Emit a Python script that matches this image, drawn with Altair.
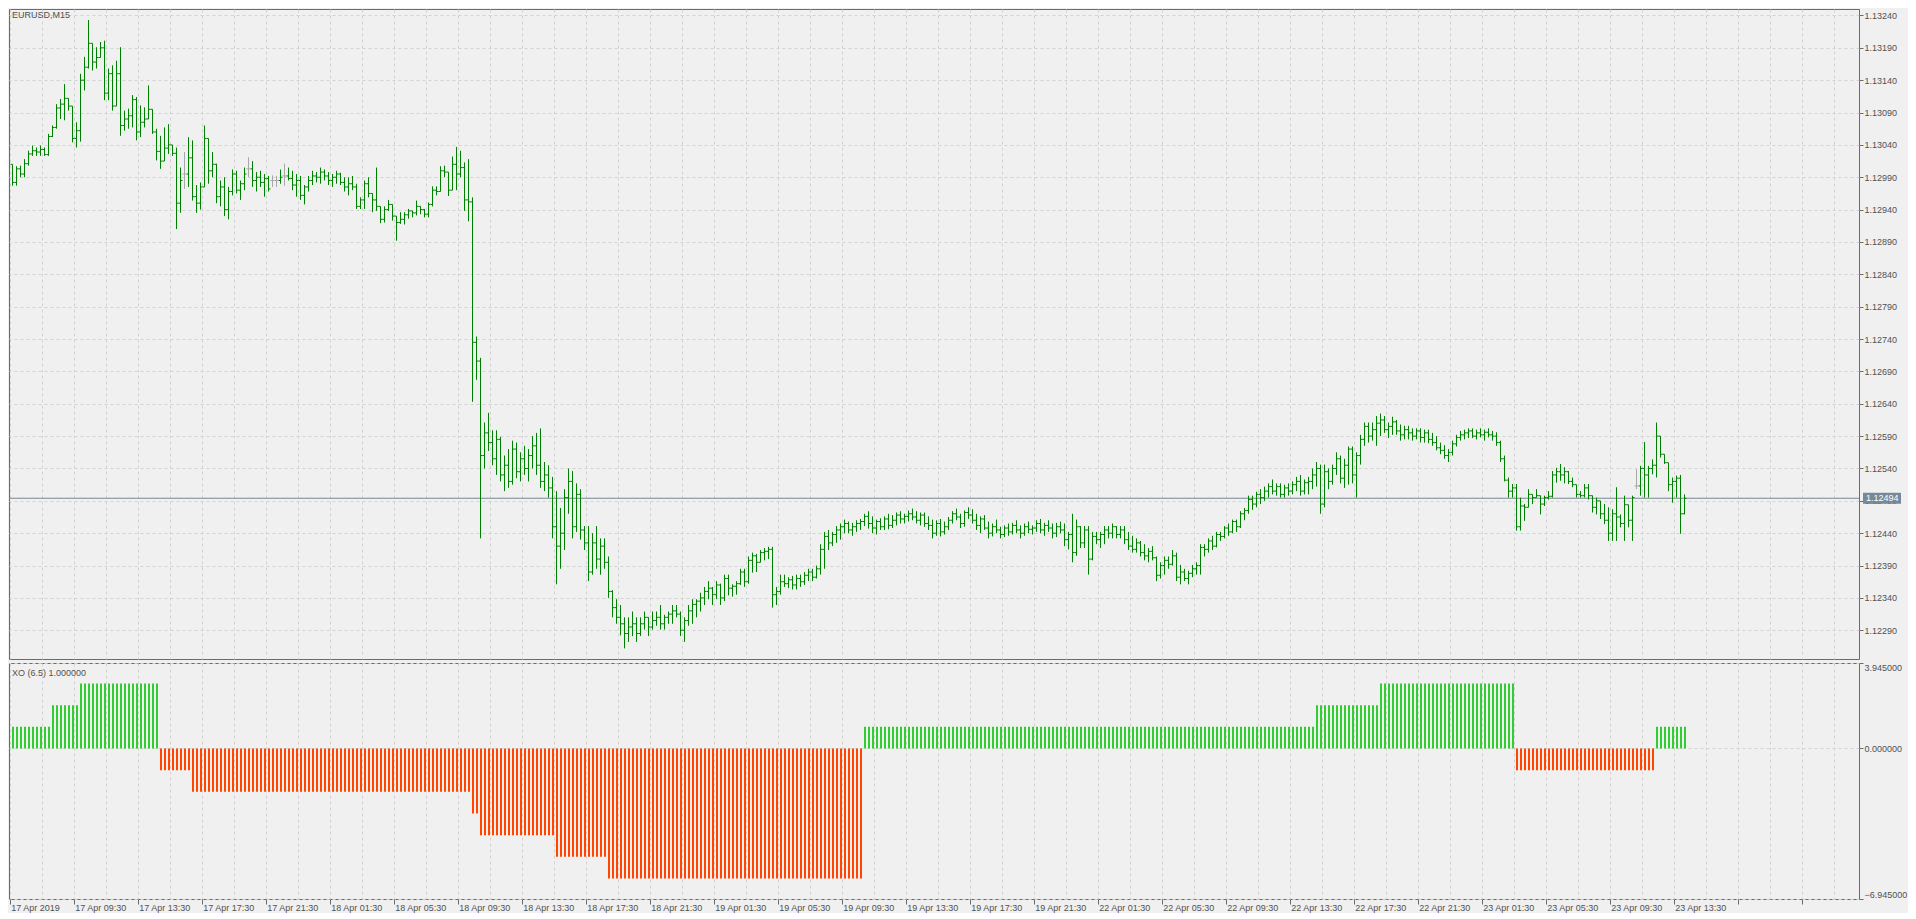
import json
import altair as alt
import pandas as pd

# ---------------- data ----------------
symbol_title = "EURUSD,M15"
indicator_title = "XO (6.5) 1.000000"

time_labels = ["17 Apr 2019", "17 Apr 09:30", "17 Apr 13:30", "17 Apr 17:30", "17 Apr 21:30",
               "18 Apr 01:30", "18 Apr 05:30", "18 Apr 09:30", "18 Apr 13:30", "18 Apr 17:30",
               "18 Apr 21:30", "19 Apr 01:30", "19 Apr 05:30", "19 Apr 09:30", "19 Apr 13:30",
               "19 Apr 17:30", "19 Apr 21:30", "22 Apr 01:30", "22 Apr 05:30", "22 Apr 09:30",
               "22 Apr 13:30", "22 Apr 17:30", "22 Apr 21:30", "23 Apr 01:30", "23 Apr 05:30",
               "23 Apr 09:30", "23 Apr 13:30"]

price_ticks = [1.12290, 1.12340, 1.12390, 1.12440, 1.12490, 1.12540, 1.12590, 1.12640, 1.12690, 1.12740,
               1.12790, 1.12840, 1.12890, 1.12940, 1.12990, 1.13040, 1.13090, 1.13140, 1.13190, 1.13240]
xo_ticks = [3.945, 0.0, -6.945]

# prices in points above 1.12000 (e.g. 1010 -> 1.13010)
opens = [
    1010, 982, 1003, 995, 1011, 1026, 1031, 1029, 1033, 1025,
    1053, 1067, 1097, 1103, 1112, 1100, 1050, 1062, 1140, 1160,
    1197, 1168, 1175, 1190, 1120, 1150, 1100, 1150, 1070, 1080,
    1085, 1110, 1060, 1075, 1080, 1095, 1060, 1030, 1015, 1035,
    1040, 1027, 950, 995, 995, 1020, 960, 950, 975, 1050,
    1000, 1010, 960, 975, 940, 968, 995, 970, 980, 1003,
    1003, 985, 990, 982, 988, 985, 985, 985, 992, 992,
    988, 978, 985, 962, 975, 985, 992, 990, 998, 992,
    985, 990, 995, 982, 975, 980, 975, 945, 955, 980,
    965, 955, 945, 925, 940, 948, 930, 920, 925, 932,
    938, 935, 945, 940, 933, 948, 970, 968, 1000, 998,
    970, 1010, 995, 1005, 955, 952, 735, 706, 560, 595,
    580, 555, 585, 530, 545, 520, 570, 535, 555, 540,
    560, 575, 545, 520, 530, 510, 450, 420, 440, 495,
    520, 450, 500, 445, 425, 380, 425, 400, 420, 395,
    350, 325, 310, 300, 285, 295, 300, 285, 300, 310,
    295, 305, 310, 300, 310, 315, 320, 315, 290, 305,
    320, 330, 335, 340, 350, 355, 345, 360, 340, 370,
    355, 358, 362, 380, 365, 398, 405, 395, 410, 412,
    415, 345, 350, 365, 362, 368, 360, 370, 365, 375,
    380, 372, 385, 415, 435, 425, 438, 445, 450, 455,
    445, 450, 455, 458, 466, 455, 448, 458, 450, 462,
    452, 460, 468, 462, 466, 470, 465, 460, 468, 455,
    452, 440, 455, 442, 450, 460, 470, 465, 455, 472,
    468, 460, 452, 462, 448, 440, 450, 445, 438, 448,
    442, 452, 445, 440, 450, 446, 448, 455, 445, 452,
    448, 440, 450, 445, 430, 438, 410, 450, 425, 445,
    400, 435, 430, 438, 445, 440, 450, 438, 445, 430,
    420, 415, 425, 410, 405, 412, 402, 375, 390, 398,
    392, 405, 372, 380, 370, 378, 385, 390, 418, 415,
    428, 420, 438, 435, 448, 442, 458, 450, 470, 475,
    492, 485, 500, 495, 505, 512, 505, 512, 500, 510,
    505, 515, 520, 505, 518, 520, 530, 540, 485, 535,
    520, 540, 555, 525, 545, 570, 530, 560, 585, 605,
    590, 600, 610, 615, 600, 605, 612, 598, 592, 600,
    595, 590, 598, 588, 595, 585, 580, 572, 568, 560,
    565, 578, 588, 592, 595, 598, 590, 595, 592, 596,
    592, 590, 580, 555, 522, 505, 510, 450, 482, 480,
    500, 495, 498, 485, 495, 497, 530, 535, 530, 535,
    520, 515, 500, 498, 510, 498, 480, 490, 470, 460,
    440, 470, 465, 455, 484, 460, 513, 513, 540, 530,
    540, 545, 590, 562, 549, 515, 520, 525, 470]

highs = [
    1010, 1007, 1008, 1018, 1031, 1039, 1036, 1039, 1036, 1057,
    1070, 1103, 1111, 1134, 1112, 1100, 1075, 1150, 1176, 1233,
    1197, 1191, 1199, 1201, 1158, 1163, 1170, 1191, 1093, 1096,
    1117, 1114, 1101, 1098, 1132, 1095, 1065, 1054, 1067, 1072,
    1040, 1036, 1005, 1029, 1052, 1047, 978, 982, 1070, 1050,
    1029, 1011, 985, 990, 975, 1002, 1000, 985, 1005, 1021,
    1015, 998, 1000, 995, 992, 993, 992, 1002, 1011, 1005,
    1000, 995, 992, 978, 992, 1000, 998, 1005, 1002, 998,
    995, 1000, 997, 990, 990, 992, 980, 959, 985, 990,
    965, 1005, 945, 945, 955, 948, 930, 936, 936, 941,
    938, 954, 945, 941, 951, 976, 976, 1007, 1008, 998,
    1022, 1037, 1031, 1013, 1018, 959, 744, 711, 611, 626,
    599, 599, 589, 560, 570, 583, 580, 565, 575, 570,
    590, 595, 602, 550, 545, 527, 505, 479, 508, 540,
    536, 517, 508, 451, 451, 440, 451, 432, 432, 404,
    352, 338, 329, 310, 310, 319, 310, 310, 319, 310,
    319, 319, 329, 314, 319, 329, 329, 319, 310, 329,
    338, 338, 348, 357, 366, 357, 366, 362, 376, 376,
    361, 366, 385, 385, 404, 410, 408, 414, 417, 419,
    419, 357, 376, 376, 372, 374, 376, 376, 380, 385,
    385, 390, 423, 442, 445, 442, 451, 455, 461, 458,
    456, 460, 462, 470, 474, 466, 461, 463, 466, 470,
    468, 472, 474, 470, 475, 478, 474, 472, 472, 466,
    461, 460, 462, 458, 465, 474, 478, 470, 475, 480,
    477, 470, 466, 468, 458, 455, 461, 450, 452, 455,
    456, 460, 452, 455, 458, 452, 460, 462, 456, 460,
    455, 456, 458, 455, 442, 470, 461, 451, 451, 451,
    442, 442, 442, 451, 451, 455, 451, 451, 451, 442,
    436, 432, 428, 423, 417, 420, 404, 395, 404, 404,
    414, 410, 391, 385, 382, 391, 395, 423, 423, 432,
    436, 442, 442, 451, 455, 461, 461, 474, 479, 498,
    498, 504, 508, 512, 517, 523, 517, 517, 515, 517,
    520, 527, 530, 523, 527, 540, 550, 546, 546, 540,
    546, 565, 560, 555, 574, 574, 565, 592, 611, 611,
    611, 621, 625, 621, 611, 620, 615, 608, 606, 606,
    602, 602, 602, 600, 600, 595, 590, 580, 576, 570,
    583, 592, 598, 600, 602, 602, 600, 602, 600, 602,
    598, 596, 583, 560, 526, 516, 516, 495, 485, 508,
    500, 508, 498, 498, 505, 536, 541, 547, 542, 536,
    526, 515, 505, 516, 516, 498, 495, 490, 485, 480,
    477, 511, 469, 498, 484, 498, 539, 544, 581, 544,
    554, 611, 590, 562, 549, 526, 529, 530, 500]

lows = [
    977, 977, 990, 990, 1008, 1023, 1023, 1023, 1023, 1023,
    1052, 1065, 1080, 1078, 1093, 1044, 1036, 1045, 1124, 1158,
    1155, 1158, 1175, 1109, 1109, 1093, 1100, 1054, 1062, 1065,
    1067, 1047, 1052, 1067, 1080, 1057, 1016, 1003, 1015, 1026,
    1023, 910, 935, 972, 975, 954, 935, 940, 975, 980,
    990, 950, 945, 930, 925, 962, 965, 955, 970, 990,
    975, 968, 975, 960, 968, 975, 975, 980, 977, 985,
    970, 960, 955, 948, 968, 978, 982, 980, 985, 978,
    975, 980, 978, 968, 962, 970, 941, 941, 941, 959,
    936, 938, 919, 920, 938, 923, 892, 918, 917, 926,
    928, 931, 933, 928, 928, 945, 962, 968, 990, 961,
    970, 970, 990, 938, 922, 643, 677, 432, 540, 567,
    545, 530, 520, 505, 510, 515, 525, 520, 530, 520,
    540, 530, 510, 505, 495, 432, 361, 385, 414, 470,
    432, 442, 430, 414, 366, 376, 385, 376, 385, 340,
    310, 300, 282, 262, 272, 281, 272, 281, 291, 281,
    291, 297, 291, 291, 300, 300, 310, 281, 272, 297,
    300, 310, 319, 329, 338, 329, 338, 329, 335, 344,
    342, 345, 360, 357, 362, 379, 380, 395, 398, 400,
    325, 329, 345, 357, 355, 353, 353, 357, 360, 366,
    366, 370, 376, 385, 414, 420, 425, 430, 440, 440,
    436, 442, 445, 451, 447, 440, 438, 445, 445, 446,
    448, 452, 455, 455, 458, 460, 455, 452, 450, 445,
    432, 436, 435, 438, 445, 455, 460, 448, 450, 462,
    455, 445, 440, 445, 432, 435, 440, 432, 434, 436,
    438, 440, 432, 436, 440, 438, 442, 440, 436, 442,
    432, 434, 440, 420, 415, 395, 405, 417, 417, 376,
    398, 423, 417, 423, 432, 432, 432, 432, 423, 414,
    410, 410, 404, 398, 395, 398, 366, 370, 376, 385,
    390, 366, 361, 366, 361, 372, 376, 376, 404, 410,
    414, 418, 428, 432, 436, 440, 442, 448, 460, 470,
    476, 480, 485, 490, 495, 500, 498, 495, 495, 498,
    500, 505, 498, 500, 500, 508, 512, 470, 480, 508,
    515, 530, 517, 510, 515, 517, 495, 546, 575, 580,
    583, 575, 590, 595, 587, 592, 592, 583, 585, 585,
    583, 585, 580, 580, 579, 575, 568, 562, 555, 550,
    560, 574, 583, 585, 587, 587, 585, 588, 583, 588,
    583, 575, 550, 520, 495, 495, 444, 444, 459, 480,
    485, 495, 469, 482, 492, 495, 518, 521, 517, 516,
    511, 495, 495, 495, 492, 472, 469, 462, 454, 428,
    428, 428, 449, 428, 449, 428, 508, 498, 495, 495,
    531, 526, 557, 547, 505, 487, 495, 439, 469]

closes = [
    982, 1003, 995, 1011, 1026, 1031, 1029, 1033, 1025, 1053,
    1067, 1097, 1103, 1112, 1100, 1050, 1062, 1140, 1160, 1197,
    1168, 1175, 1190, 1120, 1150, 1100, 1150, 1070, 1080, 1085,
    1110, 1060, 1075, 1080, 1095, 1060, 1030, 1015, 1035, 1040,
    1027, 950, 985, 995, 1020, 960, 950, 975, 1050, 1000,
    1010, 960, 975, 940, 968, 995, 970, 980, 995, 1003,
    985, 990, 982, 988, 972, 985, 985, 990, 992, 988,
    978, 985, 962, 975, 985, 992, 990, 998, 992, 985,
    990, 995, 982, 975, 980, 975, 945, 955, 980, 965,
    955, 945, 925, 940, 948, 930, 920, 925, 932, 938,
    935, 945, 940, 933, 948, 970, 968, 1000, 998, 970,
    1010, 995, 1005, 955, 952, 735, 706, 560, 595, 580,
    555, 585, 530, 545, 520, 570, 535, 555, 540, 560,
    575, 545, 520, 530, 510, 450, 420, 440, 495, 520,
    450, 500, 445, 425, 380, 425, 400, 420, 395, 350,
    325, 310, 300, 285, 295, 300, 285, 300, 310, 295,
    305, 310, 300, 310, 315, 320, 315, 290, 305, 320,
    330, 335, 340, 350, 355, 345, 360, 340, 370, 355,
    358, 362, 380, 365, 398, 405, 395, 410, 412, 415,
    345, 350, 365, 362, 368, 360, 370, 365, 375, 380,
    372, 385, 415, 435, 425, 438, 445, 450, 455, 445,
    450, 455, 458, 466, 455, 448, 458, 450, 462, 452,
    460, 468, 462, 466, 470, 465, 460, 468, 455, 452,
    440, 455, 442, 450, 460, 470, 465, 455, 472, 468,
    460, 452, 462, 448, 440, 450, 445, 438, 448, 442,
    452, 445, 440, 450, 446, 448, 455, 445, 452, 448,
    440, 450, 445, 430, 438, 410, 450, 425, 445, 400,
    435, 430, 438, 445, 440, 450, 438, 445, 430, 420,
    415, 425, 410, 405, 412, 402, 375, 390, 398, 392,
    405, 372, 380, 370, 378, 385, 390, 418, 415, 428,
    420, 438, 435, 448, 442, 458, 450, 470, 475, 492,
    485, 500, 495, 505, 512, 505, 512, 500, 510, 505,
    515, 520, 505, 518, 520, 530, 540, 485, 535, 520,
    540, 555, 525, 545, 570, 530, 560, 585, 605, 590,
    600, 610, 615, 600, 605, 612, 598, 592, 600, 595,
    590, 598, 588, 595, 585, 580, 572, 568, 560, 565,
    578, 588, 592, 595, 598, 590, 595, 592, 596, 592,
    590, 580, 555, 522, 505, 510, 450, 482, 480, 500,
    495, 498, 485, 495, 497, 530, 535, 530, 535, 520,
    515, 500, 498, 510, 498, 480, 490, 470, 460, 440,
    470, 465, 455, 484, 460, 495, 513, 540, 530, 540,
    545, 590, 562, 549, 515, 520, 525, 470, 494]

# XO histogram: (level, number of consecutive bars)
xo_runs = [(1, 10), (2, 7), (3, 20), (-1, 8), (-2, 70), (-3, 2), (-4, 19), (-5, 13),
           (-6, 64), (1, 113), (2, 16), (3, 34), (-1, 35), (1, 8)]

# ---------------- table ----------------
xo_values = []
for level, count in xo_runs:
    xo_values.extend([level] * count)

n = len(closes)
to_price = lambda v: round(1.12 + v / 100000.0, 5)
df = pd.DataFrame({
    "i": list(range(n)),
    "o": [to_price(v) for v in opens],
    "h": [to_price(v) for v in highs],
    "l": [to_price(v) for v in lows],
    "c": [to_price(v) for v in closes],
    "xo": xo_values[:n],
})
df["h"] = df[["h", "o", "c"]].max(axis=1)
df["l"] = df[["l", "o", "c"]].min(axis=1)
df["kind"] = ["doji" if o == c else "bar" for o, c in zip(opens, closes)]
df["sign"] = ["up" if v > 0 else "down" for v in df["xo"]]

last_df = pd.DataFrame({"price": [df["c"].iloc[-1]], "label": [f"{df['c'].iloc[-1]:.5f}"]})

# ---------------- styling ----------------
FONT = "Liberation Sans"
TXT = "#505050"
BORDER = "#6b6b6b"
GRID = "#d2d2d2"
BG = "#f0f0f0"

W = 1850
H1 = 650
H2 = 236
XDOM = [-0.175, 462.325]
YDOM = [1.122456, 1.13250]
YBDOM = [-6.945, 3.945]

xs = alt.Scale(domain=XDOM, nice=False, zero=False)
ys = alt.Scale(domain=YDOM, nice=False, zero=False)
yb = alt.Scale(domain=YBDOM, nice=False, zero=False)

grid_vals = list(range(0, 464, 8))
labels_js = json.dumps(time_labels)

x_top_axis = alt.Axis(values=grid_vals, labels=False, ticks=False, domain=False, title=None,
                      grid=True, gridColor=GRID, gridDash=[3, 3], gridWidth=1)
y_top_axis = alt.Axis(orient="right", values=price_ticks, format=".5f", title=None, grid=True,
                      gridColor=GRID, gridDash=[3, 3], gridWidth=1, domain=False,
                      tickSize=4, tickColor=BORDER, labelPadding=1, labelFont=FONT,
                      labelFontSize=9, labelColor=TXT)
x_bot_axis = alt.Axis(values=grid_vals, title=None, grid=True, gridColor=GRID, gridDash=[3, 3],
                      gridWidth=1, domain=False, tickSize=5,
                      tickColor={"condition": {"test": "datum.value % 16 !== 0", "value": "transparent"},
                                 "value": BORDER},
                      labelExpr=f"(datum.value % 16 === 0 && datum.value / 16 < {len(time_labels)}) ? {labels_js}[datum.value / 16] : ''",
                      labelAlign="left", labelBaseline="top", labelPadding=-1, labelOffset=1,
                      labelOverlap=False, labelFont=FONT, labelFontSize=9, labelColor=TXT)
y_bot_axis = alt.Axis(orient="right", values=xo_ticks, format=".6f", title=None, grid=True,
                      gridColor=GRID, gridDash=[3, 3], gridWidth=1, domain=False,
                      tickSize=4, tickColor=BORDER, labelPadding=1, labelFlush=True,
                      labelFont=FONT, labelFontSize=9, labelColor=TXT)

bar_color = alt.Color("kind:N", scale=alt.Scale(domain=["bar", "doji"], range=["#008000", "#a8a8a8"]),
                      legend=None)
xo_color = alt.Color("sign:N", scale=alt.Scale(domain=["up", "down"], range=["#32cd32", "#ff4500"]),
                     legend=None)

base = alt.Chart(df).transform_calculate(
    pos="datum.i + 0.7", po="datum.i + 0.2", pc="datum.i + 1.2", ph="datum.i + 0.825", zero="0"
)

# ---------------- price panel ----------------
price_line = alt.Chart(last_df).mark_rule(color="#778899", strokeWidth=1).encode(
    y=alt.Y("price:Q", scale=ys, axis=y_top_axis), x=alt.value(0), x2=alt.value(W))

hl = base.mark_rule(strokeWidth=1).encode(
    x=alt.X("pos:Q", scale=xs, axis=x_top_axis),
    y=alt.Y("h:Q", scale=ys, axis=y_top_axis), y2="l:Q", color=bar_color)
open_tick = base.mark_rule(strokeWidth=1).encode(
    x=alt.X("po:Q", scale=xs, axis=x_top_axis), x2="pos:Q",
    y=alt.Y("o:Q", scale=ys, axis=y_top_axis), color=bar_color)
close_tick = base.mark_rule(strokeWidth=1).encode(
    x=alt.X("pos:Q", scale=xs, axis=x_top_axis), x2="pc:Q",
    y=alt.Y("c:Q", scale=ys, axis=y_top_axis), color=bar_color)

price_box = alt.Chart(last_df).mark_tick(orient="horizontal", size=38, thickness=11,
                                         color="#778899", opacity=1).encode(
    x=alt.value(W + 23), y=alt.Y("price:Q", scale=ys, axis=y_top_axis))
price_text = alt.Chart(last_df).mark_text(align="left", baseline="middle", font=FONT, fontSize=9,
                                          color="white").encode(
    x=alt.value(W + 7), y=alt.Y("price:Q", scale=ys, axis=y_top_axis), text="label:N")

top_title = alt.Chart(pd.DataFrame({"t": [symbol_title]})).mark_text(
    align="left", baseline="top", font=FONT, fontSize=9, color=TXT).encode(
    x=alt.value(3), y=alt.value(2), text="t:N")

top = alt.layer(price_line, hl, open_tick, close_tick, price_box, price_text, top_title).properties(
    width=W, height=H1)

# ---------------- XO panel ----------------
hist = base.mark_rule(strokeWidth=2).encode(
    x=alt.X("ph:Q", scale=xs, axis=x_bot_axis),
    y=alt.Y("xo:Q", scale=yb, axis=y_bot_axis), y2="zero:Q", color=xo_color)

bot_title = alt.Chart(pd.DataFrame({"t": [indicator_title]})).mark_text(
    align="left", baseline="middle", font=FONT, fontSize=9, color=TXT).encode(
    x=alt.value(3), y=alt.value(10), text="t:N")

bottom = alt.layer(hist, bot_title).properties(width=W, height=H2)

chart = alt.vconcat(top, bottom, spacing=2).resolve_scale(
    color="independent"
).properties(
    padding=0, background=BG
).configure_view(stroke=BORDER, strokeWidth=1, fill=BG)

chart.save("out.html", embed_options={"renderer": "svg", "actions": False})
